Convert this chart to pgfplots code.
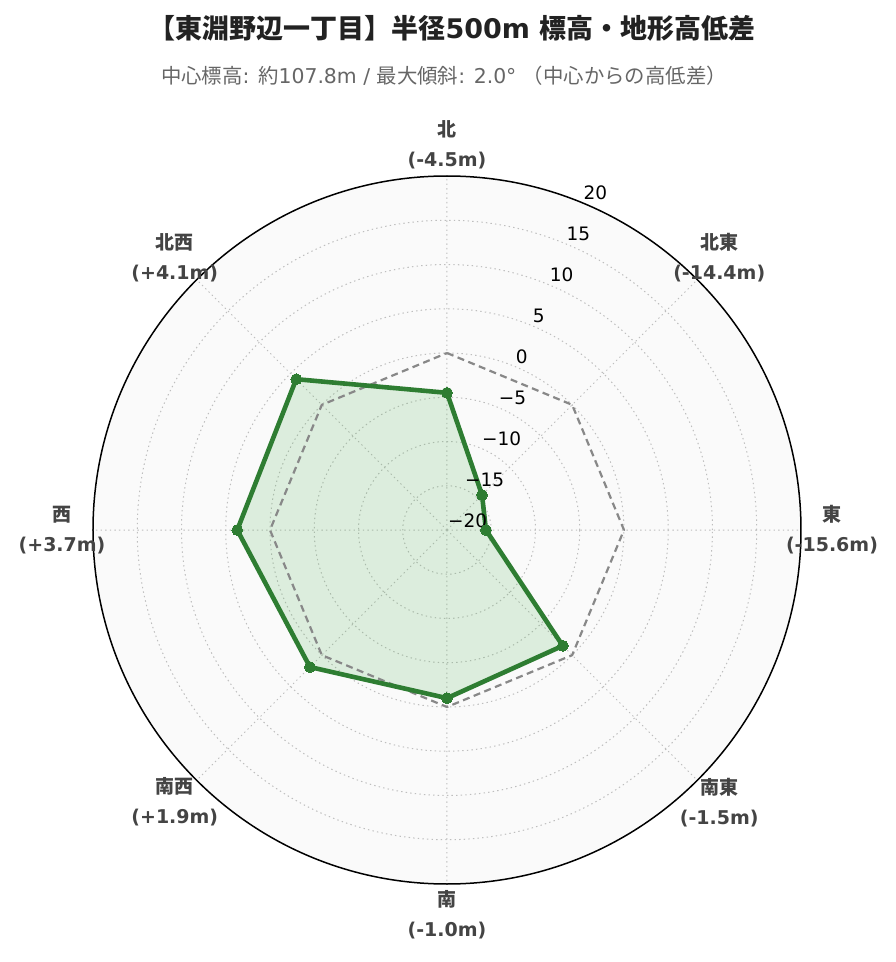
\documentclass[border=0pt]{standalone}
\usepackage{pgfplots}
\usepackage{pgfplotstable}
\pgfplotsset{compat=1.18}
\usepgfplotslibrary{polar}
\usepackage{fontspec}
\setmainfont{DejaVu Sans}
\newfontfamily\cjk{Noto Sans CJK JP}
\definecolor{grn}{HTML}{2E7D32}
\definecolor{fillg}{HTML}{4CAF50}
\definecolor{refgray}{HTML}{888888}
\definecolor{titlec}{HTML}{222222}
\definecolor{subc}{HTML}{666666}
\definecolor{labc}{HTML}{444444}
\definecolor{bgc}{HTML}{FAFAFA}
\definecolor{gridc}{HTML}{BEBEBE}

\pgfplotstableread{
a v
90 -4.5
45 -14.4
0 -15.6
315 -1.5
270 -1.0
225 1.9
180 3.7
135 4.1
90 -4.5
}\elev

\pgfplotstableread{
a v
90 0
45 0
0 0
315 0
270 0
225 0
180 0
135 0
90 0
}\refline

\begin{document}
\begin{tikzpicture}
\path[use as bounding box] (0,0) rectangle (896pt,962pt);
\node[font=\fontsize{27}{32}\selectfont\bfseries, text=titlec] at (452pt,934pt)
  {{\cjk 【東淵野辺一丁目】半径}500m {\cjk 標高・地形高低差}};
\node[font=\fontsize{20.4}{24}\selectfont, text=subc] at (444pt,886pt)
  {{\cjk 中心標高}: {\cjk 約}107.8m / {\cjk 最大傾斜}: 2.0° {\cjk （中心からの高低差）}};

\begin{polaraxis}[
  at={(447pt,432pt)}, anchor=center,
  scale only axis, width=708pt, height=708pt,
  xmin=0, xmax=360, ymin=0, ymax=40,
  xtick={0,45,...,315}, xticklabels={},
  ytick={5,10,...,35}, yticklabels={},
  grid=major,
  major grid style={draw=gridc, line width=1pt, dash pattern=on 1.4pt off 3.2pt},
  separate axis lines,
  x axis line style={black, line width=1.5pt},
  y axis line style={draw=none},
  major tick length=0pt,
  clip=false,
  axis background/.style={fill=bgc},
]
\addplot[draw=none, fill=fillg, fill opacity=0.17] table[x=a, y expr=\thisrow{v}+20] {\elev};
\addplot[draw=refgray, line width=2.2pt, dash pattern=on 7pt off 4.5pt] table[x=a, y expr=\thisrow{v}+20] {\refline};
\addplot[draw=grn, line width=4.6pt, line join=round, mark=*, mark size=5.4pt,
  mark options={fill=grn, draw=grn, line width=0pt}] table[x=a, y expr=\thisrow{v}+20] {\elev};

% radial tick labels
\begin{scope}[every node/.style={anchor=base west, font=\fontsize{18.5}{20}\selectfont, text=black, inner sep=0pt, xshift=1pt, yshift=3pt}]
\node at (axis cs:67.5,0) {−20};
\node at (axis cs:67.5,5) {−15};
\node at (axis cs:67.5,10) {−10};
\node at (axis cs:67.5,15) {−5};
\node at (axis cs:67.5,20) {0};
\node at (axis cs:67.5,25) {5};
\node at (axis cs:67.5,30) {10};
\node at (axis cs:67.5,35) {15};
\node at (axis cs:67.5,40) {20};
\end{scope}

% angular labels
\begin{scope}[every node/.style={anchor=center, align=center, font=\fontsize{19}{30}\selectfont\bfseries, text=labc, inner sep=0pt}]
\node at (axis cs:90,43.5) {{\cjk 北}\\(-4.5m)};
\node at (axis cs:45,43.5) {{\cjk 北東}\\(-14.4m)};
\node at (axis cs:0,43.5) {{\cjk 東}\\(-15.6m)};
\node at (axis cs:315,43.5) {{\cjk 南東}\\(-1.5m)};
\node at (axis cs:270,43.5) {{\cjk 南}\\(-1.0m)};
\node at (axis cs:225,43.5) {{\cjk 南西}\\(+1.9m)};
\node at (axis cs:180,43.5) {{\cjk 西}\\(+3.7m)};
\node at (axis cs:135,43.5) {{\cjk 北西}\\(+4.1m)};
\end{scope}
\end{polaraxis}
\end{tikzpicture}
\end{document}
